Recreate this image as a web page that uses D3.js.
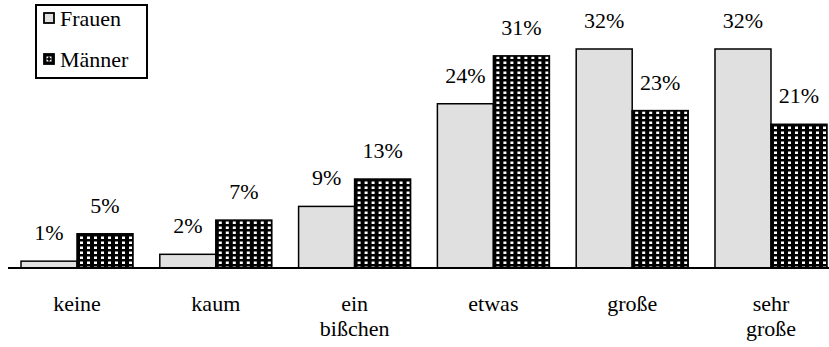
<!DOCTYPE html>
<html>
<head>
<meta charset="utf-8">
<script src="https://cdn.jsdelivr.net/npm/d3@7"></script>
<style>
  html, body { margin: 0; padding: 0; background: #fff; }
</style>
</head>
<body>
<svg id="chart" width="829" height="347"></svg>
<script>
// Anteile nach Geschlecht, in Prozent
const categories = [["keine"], ["kaum"], ["ein", "bißchen"], ["etwas"], ["große"], ["sehr", "große"]];
const seriesNames = ["Frauen", "Männer"];
const frauen = [1, 2, 9, 24, 32, 32];
const maenner = [5, 7, 13, 31, 23, 21];

const FONT = "'Liberation Serif'";
const FS = "22px";

const svg = d3.select("#chart");
const W = 829;

const keys = categories.map(c => c.join(" "));
const rows = keys.map((k, i) => ({ key: k, lines: categories[i], values: [frauen[i], maenner[i]] }));

// Pattern for the Männer bars: black ground with a grid of small white squares
const defs = svg.append("defs");
const pat = defs.append("pattern")
  .attr("id", "dots")
  .attr("patternUnits", "userSpaceOnUse")
  .attr("width", 7).attr("height", 5)
  .attr("x", 1).attr("y", 0);
pat.append("rect").attr("width", 7).attr("height", 5).attr("fill", "#000");
pat.append("rect").attr("x", 2).attr("y", 1.5).attr("width", 3).attr("height", 2.5).attr("fill", "#fff");

const fills = ["#e0e0e0", "url(#dots)"];

const baseY = 268;
const x0 = d3.scaleBand().domain(keys).range([21, 827]).paddingInner(0.193).paddingOuter(0);
const x1 = d3.scaleBand().domain(seriesNames).range([0, x0.bandwidth()]).padding(0);
const y = d3.scaleLinear().domain([0, 32]).range([baseY, 49]);

const groups = svg.append("g").selectAll("g")
  .data(rows).join("g")
  .attr("transform", d => `translate(${x0(d.key)},0)`);

groups.selectAll("rect")
  .data(d => d.values.map((v, i) => ({ name: seriesNames[i], v, i })))
  .join("rect")
  .attr("x", d => x1(d.name))
  .attr("y", d => y(d.v))
  .attr("width", x1.bandwidth())
  .attr("height", d => baseY - y(d.v))
  .attr("fill", d => fills[d.i])
  .attr("stroke", "#000")
  .attr("stroke-width", 1.5);

groups.selectAll("text.val")
  .data(d => d.values.map((v, i) => ({ name: seriesNames[i], v })))
  .join("text")
  .attr("class", "val")
  .attr("x", d => x1(d.name) + x1.bandwidth() / 2)
  .attr("y", d => y(d.v) - 21)
  .attr("text-anchor", "middle")
  .style("font-family", FONT).style("font-size", FS)
  .text(d => d.v + "%");

// Baseline axis
const axis = d3.axisBottom(x0).tickSize(0).tickFormat("");
const axisG = svg.append("g").attr("transform", `translate(0,${baseY})`).call(axis);
axisG.select(".domain").remove();
axisG.append("line").attr("x1", 8).attr("x2", W).attr("y1", 0).attr("y2", 0)
  .attr("stroke", "#000").attr("stroke-width", 2.2);

axisG.selectAll(".tick").each(function(k) {
  const row = rows.find(r => r.key === k);
  const t = d3.select(this).append("text")
    .attr("fill", "#000")
    .attr("text-anchor", "middle")
    .attr("y", 43)
    .style("font-family", FONT).style("font-size", FS);
  row.lines.forEach((ln, j) => {
    t.append("tspan").attr("x", 0).attr("dy", j === 0 ? 0 : 25).text(ln);
  });
});

// Legend
const lg = svg.append("g");
lg.append("rect").attr("x", 36).attr("y", 5).attr("width", 111).attr("height", 73)
  .attr("fill", "#fff").attr("stroke", "#000").attr("stroke-width", 2);
const items = lg.selectAll("g.item").data(seriesNames).join("g")
  .attr("class", "item")
  .attr("transform", (d, i) => `translate(0,${i * 41})`);
items.append("rect").attr("x", 44).attr("y", 13).attr("width", 10).attr("height", 10)
  .attr("fill", (d, i) => i === 0 ? "#e0e0e0" : "#000")
  .attr("stroke", "#000").attr("stroke-width", 1.8);
items.filter((d, i) => i === 1).append("rect")
  .attr("x", 46.5).attr("y", 15.5).attr("width", 5).attr("height", 5)
  .attr("fill", "#fff");
items.filter((d, i) => i === 1).append("rect")
  .attr("x", 48.2).attr("y", 15.5).attr("width", 1.6).attr("height", 5).attr("fill", "#000");
items.filter((d, i) => i === 1).append("rect")
  .attr("x", 46.5).attr("y", 17.2).attr("width", 5).attr("height", 1.6).attr("fill", "#000");
items.append("text").attr("x", 60).attr("y", 26)
  .style("font-family", FONT).style("font-size", FS).text(d => d);
</script>
</body>
</html>
